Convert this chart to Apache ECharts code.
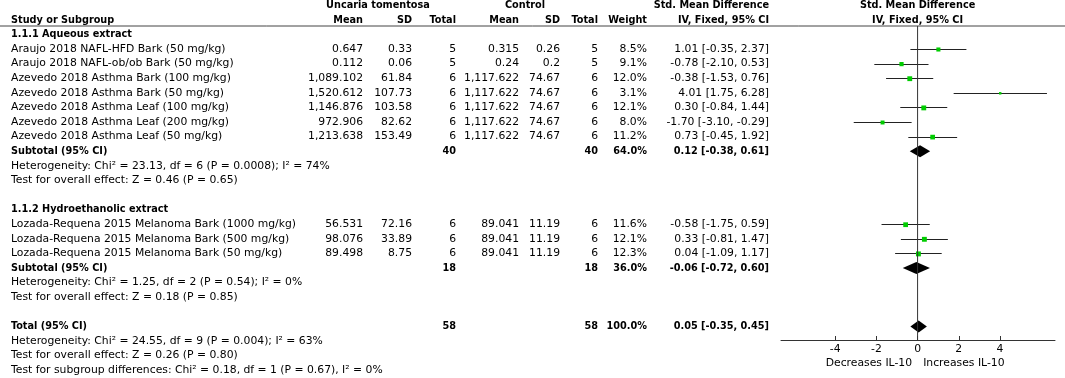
<!DOCTYPE html>
<html>
<head>
<meta charset="utf-8">
<script src="https://cdn.jsdelivr.net/npm/echarts@6/dist/echarts.min.js"></script>
<style>
  html, body { margin: 0; padding: 0; background: #fff; }
  #main { width: 1065px; height: 378px; }
</style>
</head>
<body>
<div id="main"></div>
<script>
// studies
const studyNames = [
  "Araujo 2018 NAFL-HFD Bark (50 mg/kg)",
  "Araujo 2018 NAFL-ob/ob Bark (50 mg/kg)",
  "Azevedo 2018 Asthma Bark (100 mg/kg)",
  "Azevedo 2018 Asthma Bark (50 mg/kg)",
  "Azevedo 2018 Asthma Leaf (100 mg/kg)",
  "Azevedo 2018 Asthma Leaf (200 mg/kg)",
  "Azevedo 2018 Asthma Leaf (50 mg/kg)",
  "Lozada-Requena 2015 Melanoma Bark (1000 mg/kg)",
  "Lozada-Requena 2015 Melanoma Bark (500 mg/kg)",
  "Lozada-Requena 2015 Melanoma Bark (50 mg/kg)"
];
const studyGroup = [0, 0, 0, 0, 0, 0, 0, 1, 1, 1];
const expMean = [0.647, 0.112, 1089.102, 1520.612, 1146.876, 972.906, 1213.638, 56.531, 98.076, 89.498];
const expSD = [0.33, 0.06, 61.84, 107.73, 103.58, 82.62, 153.49, 72.16, 33.89, 8.75];
const expN = [5, 5, 6, 6, 6, 6, 6, 6, 6, 6];
const ctrlMean = [0.315, 0.24, 1117.622, 1117.622, 1117.622, 1117.622, 1117.622, 89.041, 89.041, 89.041];
const ctrlSD = [0.26, 0.2, 74.67, 74.67, 74.67, 74.67, 74.67, 11.19, 11.19, 11.19];
const ctrlN = [5, 5, 6, 6, 6, 6, 6, 6, 6, 6];
const weight = [8.5, 9.1, 12.0, 3.1, 12.1, 8.0, 11.2, 11.6, 12.1, 12.3];
const smd = [1.01, -0.78, -0.38, 4.01, 0.30, -1.70, 0.73, -0.58, 0.33, 0.04];
const ciLow = [-0.35, -2.10, -1.53, 1.75, -0.84, -3.10, -0.45, -1.75, -0.81, -1.09];
const ciHigh = [2.37, 0.53, 0.76, 6.28, 1.44, -0.29, 1.92, 0.59, 1.47, 1.17];

// subgroups
const groupTitles = ["1.1.1 Aqueous extract", "1.1.2 Hydroethanolic extract"];
const groupNExp = [40, 18];
const groupNCtrl = [40, 18];
const groupWeight = [64.0, 36.0];
const groupSmd = [0.12, -0.06];
const groupLow = [-0.38, -0.72];
const groupHigh = [0.61, 0.60];
const groupHet = [
  "Heterogeneity: Chi² = 23.13, df = 6 (P = 0.0008); I² = 74%",
  "Heterogeneity: Chi² = 1.25, df = 2 (P = 0.54); I² = 0%"
];
const groupTest = [
  "Test for overall effect: Z = 0.46 (P = 0.65)",
  "Test for overall effect: Z = 0.18 (P = 0.85)"
];

// overall
const totalN = [58, 58];
const totalWeight = 100.0;
const totalSmd = [0.05, -0.35, 0.45];
const totalNotes = [
  "Heterogeneity: Chi² = 24.55, df = 9 (P = 0.004); I² = 63%",
  "Test for overall effect: Z = 0.26 (P = 0.80)",
  "Test for subgroup differences: Chi² = 0.18, df = 1 (P = 0.67), I² = 0%"
];

const axisTicks = [-4, -2, 0, 2, 4];
const favourLabels = ["Decreases IL-10", "Increases IL-10"];

// layout (pixels on the table axis)
const COL = { name: 11, eMean: 363, eSD: 412, eN: 456, cMean: 519, cSD: 560, cN: 598, weight: 647, ci: 769 };
const ROW_PX = 14.6, ROW0_PX = 5.2;
const H = 378, FOREST_H = 340;
const REG = '10.8px "DejaVu Sans"';
const BOLD = 'bold 10.8px "DejaVu Sans Condensed", "DejaVu Sans"';

const fmtNum = v => v.toLocaleString("en-US", { maximumFractionDigits: 3 });
const fmtCI = (e, l, h) => e.toFixed(2) + " [" + l.toFixed(2) + ", " + h.toFixed(2) + "]";

let cells = [];      // table text, x in table px
let plotText = [];   // text placed in effect units
let studyMarks = [];
let diamonds = [];

function cell(x, row, text, align, bold) {
  cells.push({ x: x, row: row, text: text, align: align, bold: !!bold });
}

// header
cell(378, 0, "Uncaria tomentosa", "center", true);
cell(525, 0, "Control", "center", true);
cell(COL.ci, 0, "Std. Mean Difference", "right", true);
cell(COL.name, 1, "Study or Subgroup", "left", true);
cell(COL.eMean, 1, "Mean", "right", true);
cell(COL.eSD, 1, "SD", "right", true);
cell(COL.eN, 1, "Total", "right", true);
cell(COL.cMean, 1, "Mean", "right", true);
cell(COL.cSD, 1, "SD", "right", true);
cell(COL.cN, 1, "Total", "right", true);
cell(COL.weight, 1, "Weight", "right", true);
cell(COL.ci, 1, "IV, Fixed, 95% CI", "right", true);
plotText.push({ x: 0, row: 0, text: "Std. Mean Difference", align: "center", bold: true });
plotText.push({ x: 0, row: 1, text: "IV, Fixed, 95% CI", align: "center", bold: true });

let r = 2;
groupTitles.forEach((title, g) => {
  cell(COL.name, r, title, "left", true);
  r++;
  studyNames.forEach((name, i) => {
    if (studyGroup[i] !== g) return;
    cell(COL.name, r, name, "left");
    cell(COL.eMean, r, fmtNum(expMean[i]), "right");
    cell(COL.eSD, r, fmtNum(expSD[i]), "right");
    cell(COL.eN, r, String(expN[i]), "right");
    cell(COL.cMean, r, fmtNum(ctrlMean[i]), "right");
    cell(COL.cSD, r, fmtNum(ctrlSD[i]), "right");
    cell(COL.cN, r, String(ctrlN[i]), "right");
    cell(COL.weight, r, weight[i].toFixed(1) + "%", "right");
    cell(COL.ci, r, fmtCI(smd[i], ciLow[i], ciHigh[i]), "right");
    studyMarks.push([smd[i], r, ciLow[i], ciHigh[i], weight[i]]);
    r++;
  });
  cell(COL.name, r, "Subtotal (95% CI)", "left", true);
  cell(COL.eN, r, String(groupNExp[g]), "right", true);
  cell(COL.cN, r, String(groupNCtrl[g]), "right", true);
  cell(COL.weight, r, groupWeight[g].toFixed(1) + "%", "right", true);
  cell(COL.ci, r, fmtCI(groupSmd[g], groupLow[g], groupHigh[g]), "right", true);
  diamonds.push([groupSmd[g], r, groupLow[g], groupHigh[g]]);
  r++;
  cell(COL.name, r++, groupHet[g], "left");
  cell(COL.name, r++, groupTest[g], "left");
  r++;
});
cell(COL.name, r, "Total (95% CI)", "left", true);
cell(COL.eN, r, String(totalN[0]), "right", true);
cell(COL.cN, r, String(totalN[1]), "right", true);
cell(COL.weight, r, totalWeight.toFixed(1) + "%", "right", true);
cell(COL.ci, r, fmtCI(totalSmd[0], totalSmd[1], totalSmd[2]), "right", true);
diamonds.push([totalSmd[0], r, totalSmd[1], totalSmd[2]]);
r++;
totalNotes.forEach(t => cell(COL.name, r++, t, "left"));

const favourRow = (363 - ROW0_PX) / ROW_PX;
plotText.push({ x: -0.27, row: favourRow, text: favourLabels[0], align: "right", bold: false });
plotText.push({ x: 0.27, row: favourRow, text: favourLabels[1], align: "left", bold: false });

const rowMin = -ROW0_PX / ROW_PX;
const headerRuleRow = (26 - ROW0_PX) / ROW_PX;
const forestRowMax = rowMin + FOREST_H / ROW_PX;

function textItem(list) {
  return function (params, api) {
    const c = list[params.dataIndex];
    const p = api.coord([c.x, c.row]);
    return {
      type: "text",
      x: p[0], y: p[1],
      style: { text: c.text, fill: "#000", font: c.bold ? BOLD : REG, align: c.align, verticalAlign: "middle" }
    };
  };
}

const crisp = v => Math.round(v) + 0.5;

const chart = echarts.init(document.getElementById("main"));
chart.setOption({
  animation: false,
  grid: [
    { left: 0, top: 0, width: 1065, height: H },
    { left: 781, top: 0, width: 274, height: FOREST_H }
  ],
  xAxis: [
    { gridIndex: 0, type: "value", min: 0, max: 1065, show: false },
    {
      gridIndex: 1, type: "value", min: -6.63, max: 6.67, position: "bottom",
      axisLine: { onZero: false, lineStyle: { color: "#333", width: 1 } },
      axisTick: { inside: true, length: 4, customValues: axisTicks, lineStyle: { color: "#333" } },
      axisLabel: { customValues: axisTicks, color: "#000", fontFamily: "DejaVu Sans", fontSize: 10.8, margin: 4 },
      splitLine: { show: false }
    }
  ],
  yAxis: [
    { gridIndex: 0, type: "value", inverse: true, min: rowMin, max: rowMin + H / ROW_PX, show: false },
    { gridIndex: 1, type: "value", inverse: true, min: rowMin, max: forestRowMax, show: false }
  ],
  series: [
    {
      type: "line", xAxisIndex: 0, yAxisIndex: 0, symbol: "none", silent: true,
      data: [[0, headerRuleRow], [1065, headerRuleRow]],
      lineStyle: { color: "#444", width: 1 }
    },
    {
      type: "line", xAxisIndex: 1, yAxisIndex: 1, symbol: "none", silent: true,
      data: [[0, headerRuleRow], [0, forestRowMax]],
      lineStyle: { color: "#333", width: 1 }
    },
    {
      type: "custom", xAxisIndex: 0, yAxisIndex: 0, silent: true,
      data: cells.map(c => [c.x, c.row]),
      renderItem: textItem(cells)
    },
    {
      type: "custom", xAxisIndex: 1, yAxisIndex: 1, silent: true, clip: false,
      data: plotText.map(c => [c.x, c.row]),
      renderItem: textItem(plotText)
    },
    {
      // study estimates: CI whisker + weighted square
      type: "custom", xAxisIndex: 1, yAxisIndex: 1, silent: true,
      data: studyMarks,
      encode: { x: [0, 2, 3], y: 1 },
      renderItem: function (params, api) {
        const p = api.coord([api.value(0), api.value(1)]);
        const a = api.coord([api.value(2), api.value(1)]);
        const b = api.coord([api.value(3), api.value(1)]);
        const s = 1.4 * Math.sqrt(api.value(4));
        return {
          type: "group",
          children: [
            { type: "line", shape: { x1: a[0], y1: crisp(a[1]), x2: b[0], y2: crisp(b[1]) }, style: { stroke: "#222", lineWidth: 1 } },
            { type: "rect", shape: { x: p[0] - s / 2, y: p[1] - s / 2 + 0.5, width: s, height: s }, style: { fill: "#00cc00" } }
          ]
        };
      }
    },
    {
      // pooled estimates
      type: "custom", xAxisIndex: 1, yAxisIndex: 1, silent: true,
      data: diamonds,
      encode: { x: [0, 2, 3], y: 1 },
      renderItem: function (params, api) {
        const row = api.value(1);
        const c = api.coord([api.value(0), row]);
        const l = api.coord([api.value(2), row]);
        const h = api.coord([api.value(3), row]);
        return {
          type: "polygon",
          shape: { points: [[l[0], c[1]], [c[0], c[1] - 6], [h[0], c[1]], [c[0], c[1] + 6]] },
          style: { fill: "#000" }
        };
      }
    }
  ]
});
</script>
</body>
</html>
